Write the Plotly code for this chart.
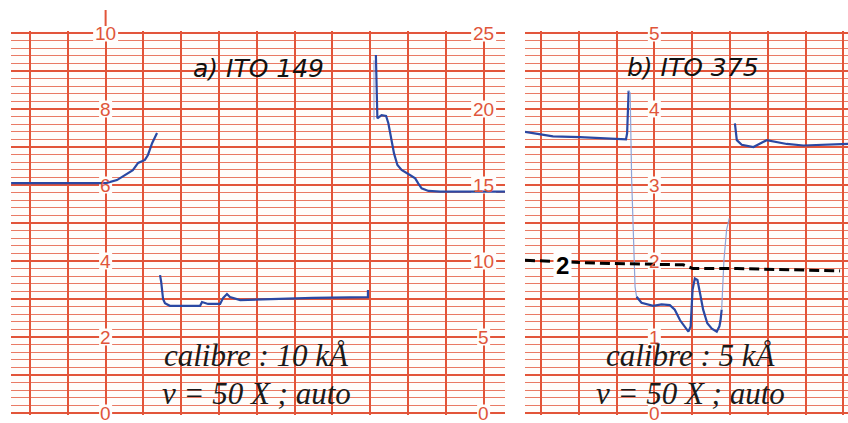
"""Chart-recorder traces for two ITO samples, redrawn with Plotly."""

import plotly.graph_objects as go

W, H = 848, 423

# ---- panel a : ITO 149 (left scale 0-10, right scale 0-25) ----
a_rise_x = [-0.50, 2.01, 2.30, 2.57, 2.72, 2.86, 3.04, 3.12, 3.23, 3.36]
a_rise_y = [6.05, 6.05, 6.13, 6.29, 6.39, 6.58, 6.66, 6.79, 7.10, 7.37]

a_mid_x = [3.44, 3.47, 3.52, 3.57, 3.70, 4.50, 4.55, 4.60, 4.71, 5.03, 5.11, 5.21,
           5.29, 5.56, 6.61, 7.49, 8.94, 8.94]
a_mid_y = [3.63, 3.45, 3.00, 2.89, 2.82, 2.82, 2.92, 2.90, 2.87, 2.87, 3.03, 3.13,
           3.05, 2.97, 3.00, 3.03, 3.05, 3.24]

# right-hand scale (0-25)
a_fall_x = [9.15, 9.17, 9.19, 9.30, 9.42, 9.48, 9.54, 9.63, 9.72, 9.83, 10.05, 10.19,
            10.27, 10.36, 10.54, 10.85, 12.57]
a_fall_y = [23.55, 19.45, 19.39, 19.60, 19.54, 19.06, 18.18, 17.08, 16.32, 15.99, 15.66,
            15.44, 15.11, 14.78, 14.61, 14.56, 14.56]
a_ghost_x = [9.10, 9.10]
a_ghost_y = [23.2, 19.3]

a_left_ticks = [0, 2, 4, 6, 8, 10]
a_right_ticks = [0, 5, 10, 15, 20, 25]

# ---- panel b : ITO 375 (scale 0-5) ----
b_left_x = [-0.42, 0.32, 1.03, 1.75, 2.25, 2.28, 2.32]
b_left_y = [3.70, 3.64, 3.63, 3.61, 3.60, 3.68, 4.24]

b_drop_x = [2.32, 2.36, 2.40, 2.44, 2.49, 2.53]
b_drop_y = [4.24, 4.21, 3.07, 2.36, 1.66, 1.53]

b_low_x = [2.53, 2.66, 2.97, 3.19, 3.41, 3.54, 3.68, 3.81, 3.90, 3.96, 4.01, 4.07,
           4.14, 4.21, 4.29, 4.40, 4.52, 4.65, 4.72, 4.75, 4.78]
b_low_y = [1.53, 1.45, 1.41, 1.43, 1.42, 1.36, 1.22, 1.14, 1.07, 1.14, 1.62, 1.77,
           1.75, 1.57, 1.36, 1.18, 1.11, 1.07, 1.14, 1.22, 1.36]

b_climb_x = [4.78, 4.84, 4.91, 4.98]
b_climb_y = [1.36, 2.01, 2.41, 2.56]

b_right_x = [5.13, 5.18, 5.31, 5.62, 5.97, 6.50, 6.94, 7.38, 8.13]
b_right_y = [3.81, 3.59, 3.53, 3.50, 3.59, 3.54, 3.52, 3.53, 3.54]

b_dash_x = [-0.42, 1.56, 3.76, 4.02, 5.19, 7.91]
b_dash_y = [2.01, 1.97, 1.95, 1.90, 1.90, 1.87]

b_ticks = [0, 1, 2, 3, 4, 5]

PEN = "#2a48a3"
PEN_FAINT = "#8ea3d8"
GRID = "#e2553a"
GRID_MINOR = "#e97a64"
LABEL = "#e0553a"
PAPER = "#fffdfb"
PX = 37.8  # pixels per vertical grid division

fig = go.Figure()


def pen(x, y, xa="x", ya="y", color=PEN, width=2.2):
    fig.add_trace(go.Scatter(x=x, y=y, xaxis=xa, yaxis=ya, mode="lines",
                             line=dict(color=color, width=width), showlegend=False,
                             hoverinfo="skip"))


pen(a_rise_x, a_rise_y)
pen(a_mid_x, a_mid_y)
pen(a_ghost_x, a_ghost_y, ya="y3", color=PEN_FAINT, width=1)
pen(a_fall_x, a_fall_y, ya="y3")

pen(b_left_x, b_left_y, "x2", "y2")
pen(b_drop_x, b_drop_y, "x2", "y2", color=PEN_FAINT, width=1.2)
pen(b_low_x, b_low_y, "x2", "y2")
pen(b_climb_x, b_climb_y, "x2", "y2", color=PEN_FAINT, width=1.2)
pen(b_right_x, b_right_y, "x2", "y2")

fig.add_trace(go.Scatter(x=b_dash_x, y=b_dash_y, xaxis="x2", yaxis="y2", mode="lines",
                         line=dict(color="black", width=3, dash="10px,5px"),
                         showlegend=False, hoverinfo="skip"))

# plot area: value 0 at pixel 413, top value at pixel 33 (range padded so edge lines show)
pad = 1.9
ydom = [(H - 413 - pad) / H, (H - 33 + pad) / H]

xgrid = dict(tick0=0, dtick=1, showgrid=True, gridcolor=GRID, gridwidth=2,
             showticklabels=False, zeroline=False, ticks="", fixedrange=True)
fig.update_layout(
    width=W, height=H,
    margin=dict(l=0, r=0, t=0, b=0),
    paper_bgcolor="white",
    plot_bgcolor=PAPER,
    xaxis=dict(domain=[11 / W, 505 / W], range=[-0.503, 12.566], **xgrid),
    xaxis2=dict(domain=[525 / W, 1], range=[-0.42, 8.12], anchor="y2", **xgrid),
    yaxis=dict(domain=ydom, range=[-0.05, 10.05], tick0=0, dtick=1, showgrid=True,
               gridcolor=GRID, gridwidth=1.5, zeroline=False, showticklabels=False,
               minor=dict(tick0=0, dtick=0.2, showgrid=True, gridcolor=GRID_MINOR, gridwidth=1)),
    yaxis3=dict(overlaying="y", range=[-0.125, 25.125], visible=False, showgrid=False),
    yaxis2=dict(domain=ydom, range=[-0.025, 5.025], anchor="x2", tick0=0, dtick=0.5,
                showgrid=True, gridcolor=GRID, gridwidth=1.5, zeroline=False,
                showticklabels=False,
                minor=dict(tick0=0, dtick=0.1, showgrid=True, gridcolor=GRID_MINOR, gridwidth=1)),
)

# scale labels printed on the paper: a blank patch (between grid and pen) plus the digits.
# patches for the right-hand 0-25 scale sit on the left axis (same pixels, factor 10/25)
annotations = []
tick_font = dict(family="Liberation Sans, Arial, sans-serif", size=19, color=LABEL)
scales = [("x", "y", "y", 1.0, 2, a_left_ticks, 38.0),
          ("x", "y3", "y", 10 / 25, 12, a_right_ticks, 38.0),
          ("x2", "y2", "y2", 1.0, 3, b_ticks, 76.0)]
for xr, yr, patch_yr, k, xpos, ticks, px_per_unit in scales:
    for v in ticks:
        half_w = (6.5 if v < 10 else 12.5) / PX
        half_h = 8.5 / px_per_unit
        fig.add_shape(type="rect", xref=xr, yref=patch_yr, layer="between",
                      x0=xpos - half_w, x1=xpos + half_w,
                      y0=v * k - half_h, y1=v * k + half_h,
                      fillcolor=PAPER, line_width=0)
        annotations.append(dict(x=xpos, y=v, xref=xr, yref=yr, text=str(v), showarrow=False,
                                xanchor="center", yanchor="middle", font=tick_font))

title_font = dict(family="DejaVu Sans, sans-serif", size=25, color="#111")
annotations.append(dict(x=258 / W, y=(H - 68) / H, xref="paper", yref="paper",
                        xanchor="center", yanchor="middle",
                        text="<i>a) ITO 149</i>", showarrow=False, font=title_font))
annotations.append(dict(x=693 / W, y=(H - 67) / H, xref="paper", yref="paper",
                        xanchor="center", yanchor="middle",
                        text="<i>b) ITO 375</i>", showarrow=False, font=title_font))

serif = dict(family="Liberation Serif, Times New Roman, serif", size=31, color="#1a1a1a")
for cx, line1 in [(256, "calibre : 10 kÅ"), (690, "calibre : 5 kÅ")]:
    annotations.append(dict(x=cx / W, y=(H - 355) / H, xref="paper", yref="paper",
                            xanchor="center", yanchor="middle",
                            text=f"<i>{line1}</i>", showarrow=False, font=serif))
    annotations.append(dict(x=cx / W, y=(H - 393) / H, xref="paper", yref="paper",
                            xanchor="center", yanchor="middle",
                            text="<i>v = 50 X ; auto</i>", showarrow=False, font=serif))

annotations.append(dict(x=562 / W, y=(H - 265) / H, xref="paper", yref="paper",
                        xanchor="center", yanchor="middle",
                        text="<b>2</b>", showarrow=False, bgcolor="white", borderpad=2,
                        font=dict(family="Liberation Sans, Arial, sans-serif", size=24,
                                  color="black")))
fig.update_layout(annotations=annotations)

# short scale stroke above the top label of panel a
fig.add_shape(type="line", xref="x", yref="paper", x0=2, x1=2,
              y0=(H - 26) / H, y1=(H - 10) / H, line=dict(color=GRID, width=2))

# the page body has a default 8px margin; drop it so the figure fills the window
fig.write_html("out.html", config={"displayModeBar": False},
               post_script="document.body.style.margin='0';")
